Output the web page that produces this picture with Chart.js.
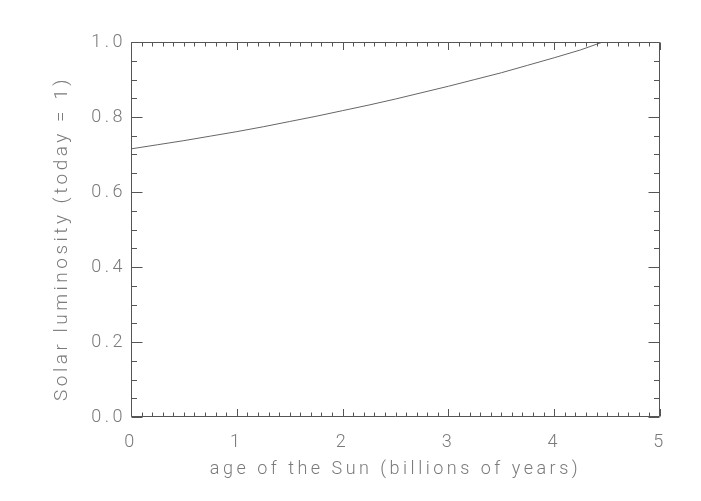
<!DOCTYPE html>
<html><head><meta charset="utf-8">
<script src="https://cdn.jsdelivr.net/npm/chart.js@4"></script>
<style>html,body{margin:0;padding:0;background:#fff;}canvas{display:block;}</style>
</head><body>
<canvas id="c" width="701" height="501"></canvas>
<script>
// age of the Sun (billions of years)
const ageGyr = [0, 0.25, 0.5, 0.75, 1.0, 1.25, 1.5, 1.75, 2.0, 2.25, 2.5, 2.75, 3.0, 3.25, 3.5, 3.75, 4.0, 4.25, 4.46];
// solar luminosity relative to today
const luminosity = [0.715, 0.726, 0.737, 0.749, 0.761, 0.774, 0.788, 0.802, 0.817, 0.832, 0.848, 0.865, 0.882, 0.900, 0.918, 0.938, 0.958, 0.979, 1.0];
const xTickLabels = ['0', '1', '2', '3', '4', '5'];
const yTickLabels = ['0.0', '0.2', '0.4', '0.6', '0.8', '1.0'];
const xTitle = 'age of the Sun (billions of years)';
const yTitle = 'Solar luminosity (today = 1)';

const LINE = '#555';
const TEXT = '#7a7a7a';
const SPACING = '3.5px';
const FONT_FAMILY = 'Roboto, "DejaVu Sans", sans-serif';

const frameTicks = {
  id: 'frameTicks',
  beforeUpdate(chart) { chart.ctx.letterSpacing = SPACING; },
  beforeDraw(chart) { chart.ctx.letterSpacing = SPACING; },
  afterDatasetsDraw(chart) {
    const {ctx, chartArea: a, scales: {x, y}} = chart;
    ctx.save();
    ctx.strokeStyle = LINE;
    ctx.lineWidth = 1;
    const L = Math.round(a.left) + 0.5, R = Math.round(a.right) - 0.5;
    const T = Math.round(a.top) + 0.5, B = Math.round(a.bottom) - 0.5;
    ctx.beginPath();
    ctx.rect(L, T, R - L, B - T);
    for (let i = 0; i <= 50; i++) {
      const px = Math.round(x.getPixelForValue(i / 10)) + 0.5;
      const len = (i % 10 === 0) ? 7.5 : 4;
      ctx.moveTo(px, B); ctx.lineTo(px, B - len);
      ctx.moveTo(px, T); ctx.lineTo(px, T + len);
    }
    for (let j = 0; j <= 20; j++) {
      const py = Math.round(y.getPixelForValue(j * 0.05)) + 0.5;
      const len = (j % 4 === 0) ? 11 : 5.5;
      ctx.moveTo(L, py); ctx.lineTo(L + len, py);
      ctx.moveTo(R, py); ctx.lineTo(R - len, py);
    }
    ctx.stroke();
    ctx.restore();
  },
  afterDraw(chart) {
    const {ctx, chartArea: a} = chart;
    ctx.save();
    ctx.letterSpacing = SPACING;
    ctx.fillStyle = TEXT;
    ctx.font = '300 19px ' + FONT_FAMILY;
    ctx.textAlign = 'center';
    ctx.textBaseline = 'middle';
    ctx.translate(62, (a.top + a.bottom) / 2 + 9);
    ctx.rotate(-Math.PI / 2);
    ctx.fillText(yTitle, 0, 0);
    ctx.restore();
  }
};

Chart.defaults.font.family = FONT_FAMILY;
Chart.defaults.font.weight = '300';
Chart.defaults.color = TEXT;

new Chart(document.getElementById('c'), {
  type: 'line',
  data: {
    datasets: [{
      data: ageGyr.map((t, i) => ({x: t, y: luminosity[i]})),
      borderColor: '#666',
      borderWidth: 1,
      pointRadius: 0,
      tension: 0,
      fill: false
    }]
  },
  options: {
    responsive: false,
    animation: false,
    events: [],
    layout: {padding: {top: 42, right: 41, bottom: 0, left: 0}},
    plugins: {legend: {display: false}, tooltip: {enabled: false}},
    scales: {
      x: {
        type: 'linear', min: 0, max: 5,
        grid: {display: false, drawTicks: false},
        border: {display: false},
        ticks: {stepSize: 1, padding: 15, font: {size: 18}, color: TEXT, maxRotation: 0,
          callback: (v, i) => xTickLabels[i]},
        title: {display: true, text: xTitle, font: {size: 18}, color: TEXT, padding: {top: 0, bottom: 21}},
        afterFit: s => { s.height = 84; }
      },
      y: {
        type: 'linear', min: 0, max: 1,
        grid: {display: false, drawTicks: false},
        border: {display: false},
        ticks: {stepSize: 0.2, padding: 5, font: {size: 18}, color: TEXT,
          callback: (v, i) => yTickLabels[i]},
        title: {display: false},
        afterFit: s => { s.width = 131; }
      }
    }
  },
  plugins: [frameTicks]
});
</script>
</body></html>
